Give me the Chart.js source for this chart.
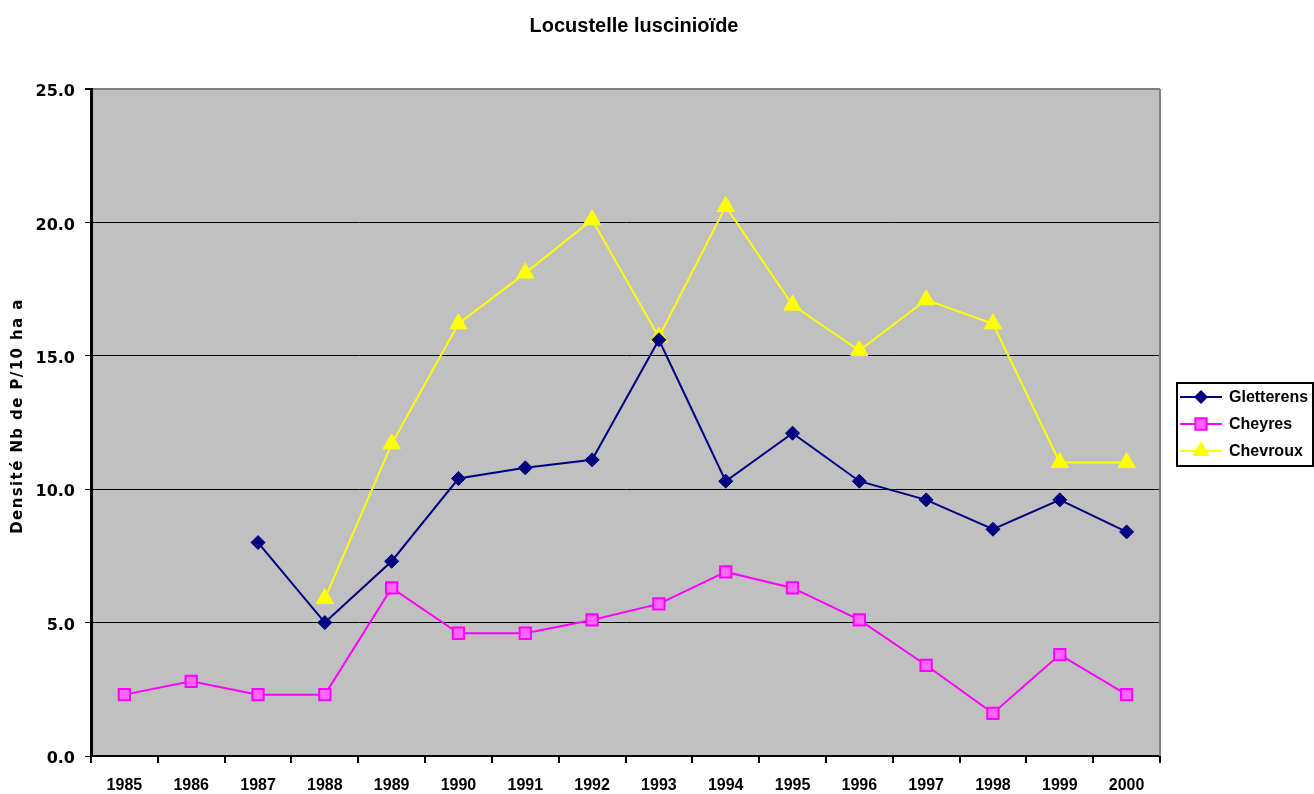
<!DOCTYPE html>
<html>
<head>
<meta charset="utf-8">
<script src="https://cdn.jsdelivr.net/npm/chart.js@4/dist/chart.umd.min.js"></script>
<style>
  html, body { margin: 0; padding: 0; background: #fff; }
  #wrap { width: 1314px; height: 794px; }
</style>
</head>
<body>
<div id="wrap"><canvas id="chart" width="1314" height="794"></canvas></div>
<script>
// donnees
const years = ['1985','1986','1987','1988','1989','1990','1991','1992','1993','1994','1995','1996','1997','1998','1999','2000'];
const gletterens = [null, null, 8.0, 5.0, 7.3, 10.4, 10.8, 11.1, 15.6, 10.3, 12.1, 10.3, 9.6, 8.5, 9.6, 8.4];
const cheyres = [2.3, 2.8, 2.3, 2.3, 6.3, 4.6, 4.6, 5.1, 5.7, 6.9, 6.3, 5.1, 3.4, 1.6, 3.8, 2.3];
const chevroux = [null, null, null, 5.9, 11.7, 16.2, 18.1, 20.1, 15.7, 20.6, 16.9, 15.2, 17.1, 16.2, 11.0, 11.0];
const yTicks = [0, 5, 10, 15, 20, 25];

const chartTitle = 'Locustelle luscinioïde';
const yTitle = 'Densité Nb de P/10 ha a';

// fond gris, bordures, titre, legende encadree
const decor = {
    id: 'decor',
    beforeDraw(chart) {
        const { ctx, chartArea: a } = chart;
        ctx.save();
        ctx.fillStyle = '#fff';
        ctx.fillRect(0, 0, chart.width, chart.height);
        ctx.fillStyle = '#C0C0C0';
        ctx.fillRect(a.left, a.top, a.right - a.left, a.bottom - a.top);
        ctx.restore();
    },
    afterDraw(chart) {
        const { ctx, chartArea: a } = chart;
        ctx.save();
        // bordure droite grise
        ctx.strokeStyle = '#808080';
        ctx.lineWidth = 2;
        ctx.beginPath();
        ctx.moveTo(a.right, a.top);
        ctx.lineTo(a.right, a.bottom);
        ctx.stroke();

        // titre
        ctx.fillStyle = '#000';
        ctx.font = 'bold 20px "Liberation Sans", Arial, sans-serif';
        ctx.textAlign = 'center';
        ctx.textBaseline = 'middle';
        ctx.fillText(chartTitle, 634, 26);

        // titre axe y
        ctx.save();
        ctx.translate(18, 416);
        ctx.rotate(-Math.PI / 2);
        ctx.font = 'bold 15px "DejaVu Sans", sans-serif';
        ctx.letterSpacing = '1.4px';
        ctx.fillText(yTitle, 0, 0);
        ctx.restore();

        // legende
        const bx = 1177, by = 383, bw = 136, bh = 83;
        ctx.fillStyle = '#fff';
        ctx.fillRect(bx, by, bw, bh);
        ctx.strokeStyle = '#000';
        ctx.lineWidth = 2;
        ctx.strokeRect(bx, by, bw, bh);
        ctx.font = 'bold 16px "Liberation Sans", Arial, sans-serif';
        ctx.textAlign = 'left';
        chart.data.datasets.forEach((ds, i) => {
            const y = by + 14 + i * 27;
            ctx.strokeStyle = ds.borderColor;
            ctx.lineWidth = 2;
            ctx.beginPath();
            ctx.moveTo(bx + 3, y);
            ctx.lineTo(bx + 45, y);
            ctx.stroke();
            const cx = bx + 24;
            ctx.fillStyle = ds.pointBackgroundColor;
            ctx.strokeStyle = ds.pointBorderColor;
            ctx.lineWidth = ds.pointBorderWidth;
            ctx.beginPath();
            if (ds.pointStyle === 'rectRot') {
                const r = ds.pointRadius;
                ctx.moveTo(cx, y - r); ctx.lineTo(cx + r, y); ctx.lineTo(cx, y + r); ctx.lineTo(cx - r, y);
                ctx.closePath();
                ctx.fill();
            } else if (ds.pointStyle === 'rect') {
                const r = ds.pointRadius * Math.SQRT1_2;
                ctx.rect(cx - r, y - r, 2 * r, 2 * r);
                ctx.fill(); ctx.stroke();
            } else {
                const r = ds.pointRadius;
                ctx.moveTo(cx, y - r); ctx.lineTo(cx + r * 0.866, y + r * 0.5); ctx.lineTo(cx - r * 0.866, y + r * 0.5);
                ctx.closePath();
                ctx.fill();
            }
            ctx.fillStyle = '#000';
            ctx.fillText(ds.label, bx + 52, y + 1);
        });
        ctx.restore();
    }
};

new Chart(document.getElementById('chart').getContext('2d'), {
    type: 'line',
    data: {
        labels: years,
        datasets: [
            {
                label: 'Gletterens',
                data: gletterens,
                borderColor: '#000080',
                borderWidth: 2,
                pointStyle: 'rectRot',
                pointRadius: 7,
                pointBackgroundColor: '#000080',
                pointBorderColor: '#000080',
                pointBorderWidth: 1,
                tension: 0
            },
            {
                label: 'Cheyres',
                data: cheyres,
                borderColor: '#FF00FF',
                borderWidth: 2,
                pointStyle: 'rect',
                pointRadius: 8,
                pointBackgroundColor: '#FF66FF',
                pointBorderColor: '#FF00FF',
                pointBorderWidth: 2,
                tension: 0
            },
            {
                label: 'Chevroux',
                data: chevroux,
                borderColor: '#FFFF00',
                borderWidth: 2,
                pointStyle: 'triangle',
                pointRadius: 10,
                pointBackgroundColor: '#FFFF00',
                pointBorderColor: '#FFFF00',
                pointBorderWidth: 1,
                tension: 0
            }
        ]
    },
    options: {
        responsive: false,
        animation: false,
        spanGaps: false,
        layout: { padding: { top: 89, right: 154, left: 0, bottom: 0 } },
        plugins: {
            legend: { display: false },
            title: { display: false },
            tooltip: { enabled: false }
        },
        scales: {
            x: {
                offset: true,
                border: { color: '#000', width: 2 },
                grid: {
                    offset: true,
                    drawOnChartArea: false,
                    tickLength: 7,
                    tickColor: '#000',
                    lineWidth: 2
                },
                ticks: {
                    color: '#000',
                    padding: 13,
                    maxRotation: 0,
                    autoSkip: false,
                    font: { family: '"Liberation Sans", Arial, sans-serif', weight: 'bold', size: 16 }
                },
                afterFit: s => { s.height = 38; }
            },
            y: {
                min: 0,
                max: 25,
                border: { color: '#000', width: 3 },
                afterBuildTicks: s => { s.ticks = yTicks.map(v => ({ value: v })); },
                grid: {
                    color: c => c.tick.value === 25 ? '#808080' : '#000',
                    lineWidth: c => c.tick.value === 25 ? 2 : 1,
                    tickColor: '#000',
                    tickLength: 6
                },
                ticks: {
                    color: '#000',
                    padding: 10,
                    labelOffset: 3,
                    callback: v => v.toFixed(1),
                    font: { family: '"DejaVu Sans", sans-serif', weight: 'bold', size: 16 }
                },
                afterFit: s => { s.width = 91; }
            }
        }
    },
    plugins: [decor]
});
</script>
</body>
</html>
